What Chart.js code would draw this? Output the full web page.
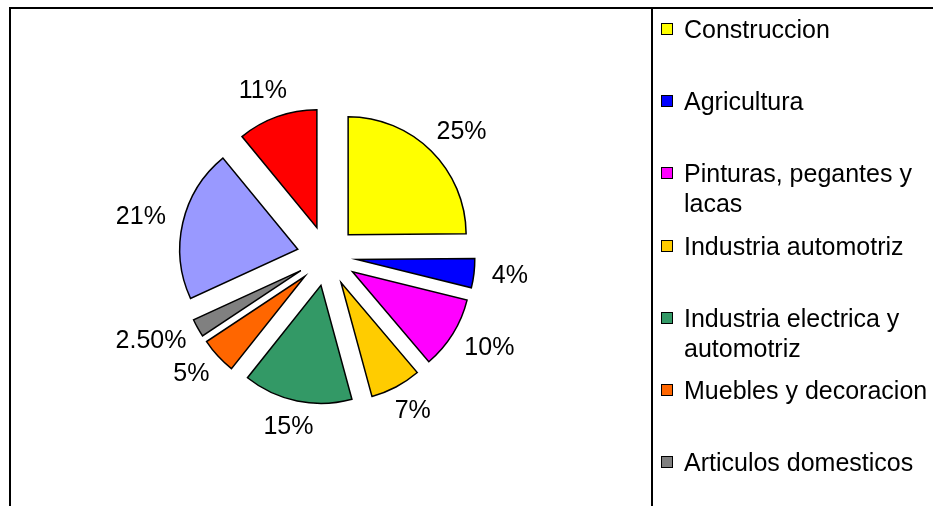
<!DOCTYPE html>
<html lang="es">
  <head>
    <meta charset="UTF-8" />
    <meta name="viewport" content="width=device-width, initial-scale=1.0" />
    <title>Consumo por sector</title>
    <script src="https://cdn.jsdelivr.net/npm/chart.js"></script>
    <style>
      html,
      body {
        margin: 0;
        padding: 0;
        background: #fff;
        overflow: hidden;
      }
      #wrap {
        position: relative;
        width: 933px;
        height: 506px;
        font-family: "Liberation Sans", Arial, sans-serif;
      }
      #chartBox {
        position: absolute;
        left: 0;
        top: 0;
        width: 933px;
        height: 506px;
      }
      .linea {
        position: absolute;
        background: #000;
      }
      #legend {
        position: absolute;
        left: 661px;
        top: 14px;
        width: 272px;
        height: 492px;
        overflow: hidden;
      }
      .item {
        position: absolute;
        left: 0;
        width: 272px;
        height: 72px;
      }
      .swatch {
        position: absolute;
        left: 0;
        top: 9px;
        width: 10px;
        height: 10px;
        border: 1.5px solid #000;
      }
      .texto {
        position: absolute;
        left: 23px;
        top: 0;
        width: 252px;
        font-size: 25px;
        line-height: 30px;
        color: #000;
      }
    </style>
  </head>
  <body>
    <div id="wrap">
      <div id="chartBox"><canvas id="pieChart"></canvas></div>
      <div class="linea" style="left: 9px; top: 7px; width: 924px; height: 2px"></div>
      <div class="linea" style="left: 9px; top: 7px; width: 2px; height: 499px"></div>
      <div class="linea" style="left: 651px; top: 7px; width: 2px; height: 499px"></div>
      <div id="legend"></div>
    </div>

    <script>
      const sectores = [
        "Construccion",
        "Agricultura",
        "Pinturas, pegantes y lacas",
        "Industria automotriz",
        "Industria electrica y automotriz",
        "Muebles y decoracion",
        "Articulos domesticos",
        "Empaques",
        "Otros",
      ];
      const porcentajes = [25, 4, 10, 7, 15, 5, 2.5, 21, 11];
      const colores = [
        "#FFFF00",
        "#0000FF",
        "#FF00FF",
        "#FFCC00",
        "#339966",
        "#FF6600",
        "#808080",
        "#9999FF",
        "#FF0000",
      ];

      // distancia a la que se separa cada porcion del centro
      const separacion = 30;

      const explotar = {
        id: "explotar",
        afterDatasetUpdate(chart, args) {
          args.meta.data.forEach((arc) => {
            const mid = (arc.startAngle + arc.endAngle) / 2;
            arc.x += Math.cos(mid) * separacion;
            arc.y += Math.sin(mid) * separacion;
          });
        },
      };

      // porcentaje fuera de cada porcion, sobre su bisectriz
      const etiquetas = {
        id: "etiquetas",
        afterDatasetsDraw(chart) {
          const ctx = chart.ctx;
          const meta = chart.getDatasetMeta(0);
          ctx.save();
          ctx.font = '25px "Liberation Sans", Arial, sans-serif';
          ctx.fillStyle = "#000";
          ctx.textAlign = "center";
          ctx.textBaseline = "middle";
          meta.data.forEach((arc, i) => {
            const v = porcentajes[i];
            const txt = (Number.isInteger(v) ? v : v.toFixed(2)) + "%";
            const mid = (arc.startAngle + arc.endAngle) / 2;
            const dx = Math.cos(mid);
            const dy = Math.sin(mid);
            const w = ctx.measureText(txt).width;
            const h = 18;
            const r = arc.outerRadius + 18;
            ctx.fillText(txt, arc.x + dx * (r + w / 2), arc.y + dy * (r + h / 2));
          });
          ctx.restore();
        },
      };

      const legend = document.getElementById("legend");
      sectores.forEach((nombre, i) => {
        const item = document.createElement("div");
        item.className = "item";
        item.style.top = (i * 72.2).toFixed(1) + "px";
        item.innerHTML =
          '<div class="swatch" style="background:' + colores[i] + '"></div>' +
          '<div class="texto">' + nombre + "</div>";
        legend.appendChild(item);
      });

      new Chart(document.getElementById("pieChart"), {
        type: "pie",
        data: {
          labels: sectores,
          datasets: [
            {
              data: porcentajes,
              backgroundColor: colores,
              borderColor: "#000",
              borderWidth: 1.5,
              borderJoinStyle: "miter",
            },
          ],
        },
        options: {
          responsive: true,
          maintainAspectRatio: false,
          animation: false,
          radius: 118,
          layout: { padding: { left: 0, right: 279, top: 8, bottom: 2 } },
          plugins: {
            legend: { display: false },
            tooltip: { enabled: false },
          },
        },
        plugins: [explotar, etiquetas],
      });
    </script>
  </body>
</html>
